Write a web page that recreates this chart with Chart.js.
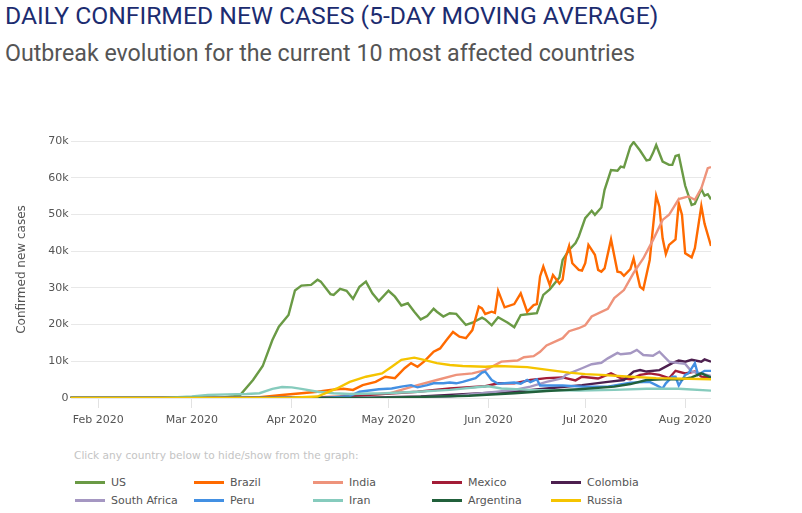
<!DOCTYPE html>
<html>
<head>
<meta charset="utf-8">
<script src="https://cdn.jsdelivr.net/npm/chart.js@4.4.0/dist/chart.umd.min.js"></script>
<style>
  body { margin: 0; background: #fff; width: 802px; height: 513px; overflow: hidden; position: relative; font-family: "DejaVu Sans", sans-serif; }
  #title { position: absolute; left: 5px; top: 1px; font-family: Roboto, sans-serif; font-size: 24.7px; line-height: 30px; color: #1c2c70; white-space: nowrap; }
  #subtitle { position: absolute; left: 5px; top: 39px; font-family: Roboto, sans-serif; font-size: 23.2px; line-height: 28px; color: #555; white-space: nowrap; }
  #box { position: absolute; left: 0; top: 100px; width: 802px; height: 340px; }
  #hint { position: absolute; left: 74px; top: 449px; font-size: 10.6px; color: #c4c4c4; white-space: nowrap; }
  .item { position: absolute; font-size: 11px; color: #555; white-space: nowrap; line-height: 14px; cursor: pointer; }
  .item span.sw { display: inline-block; width: 30px; height: 3px; vertical-align: middle; margin-right: 6px; position: relative; top: -1px; }
</style>
</head>
<body>
<div id="title">DAILY CONFIRMED NEW CASES (5-DAY MOVING AVERAGE)</div>
<div id="subtitle">Outbreak evolution for the current 10 most affected countries</div>
<div id="box"><canvas id="covidChart"></canvas></div>
<div id="hint">Click any country below to hide/show from the graph:</div>
<div id="legend"></div>
<script>
// day index: 0 = 22 Jan 2020
var monthDays = [10, 39, 70, 100, 131, 161, 192];
var monthLabels = ["Feb 2020", "Mar 2020", "Apr 2020", "May 2020", "Jun 2020", "Jul 2020", "Aug 2020"];
var yTicks = [0, 10000, 20000, 30000, 40000, 50000, 60000, 70000];

var countries = ["US", "Brazil", "India", "Mexico", "Colombia", "South Africa", "Peru", "Iran", "Argentina", "Russia"];
var colors = ["#6a9a45", "#ff6a00", "#ee937b", "#a31c37", "#4d1f4f", "#a597c2", "#4390e3", "#86cbbd", "#21603b", "#f5c400"];

// [day, cases]
var usData = [[1,0],[40,0],[48,100],[52,500],[54,800],[58,4900],[61,8700],[64,15800],[66,19400],[69,22600],[71,29300],[73,30600],[76,30800],[78,32200],[79,31700],[82,28300],[83,28100],[85,29700],[87,29200],[89,27000],[91,30300],[93,31700],[95,28500],[97,26400],[100,29200],[102,27600],[104,25200],[106,25800],[108,23500],[110,21400],[112,22300],[114,24300],[115,23500],[117,22200],[119,23100],[121,22900],[124,19900],[126,20500],[129,21900],[130,21400],[132,19800],[134,22000],[137,20500],[139,19300],[141,22600],[143,22800],[146,23100],[148,28100],[150,29600],[153,32800],[154,37600],[156,40300],[158,42200],[159,44000],[161,49000],[163,51000],[164,49900],[166,51900],[167,56700],[169,62100],[171,61900],[172,63000],[173,62800],[175,68500],[176,69700],[178,67400],[180,64700],[181,64900],[182,66700],[183,68900],[185,64400],[187,63500],[188,63500],[189,65900],[190,66200],[192,57800],[194,52600],[195,52900],[197,56900],[198,55100],[199,55500],[200,54100]];
var brazilData = [[1,0],[50,0],[60,200],[67,800],[73,1300],[78,1700],[82,2200],[86,2500],[89,2200],[92,3500],[96,4400],[99,5800],[102,5400],[105,8100],[107,9500],[109,8500],[111,9900],[114,12600],[116,13500],[118,15800],[120,18000],[122,16700],[124,16300],[126,18500],[128,24900],[129,24400],[130,22900],[132,23500],[133,23200],[134,29200],[136,24700],[139,25600],[141,28500],[143,23500],[145,25300],[146,25600],[147,33100],[148,35800],[150,30800],[151,33500],[153,31200],[154,32300],[155,38500],[156,41400],[157,36700],[159,34900],[160,34700],[161,36700],[162,41700],[164,39000],[165,34900],[166,34400],[167,35300],[169,43200],[171,34400],[172,34200],[173,33300],[175,35100],[176,38000],[178,30300],[179,29600],[181,37600],[183,55100],[184,52100],[185,43500],[186,39200],[187,41700],[189,43200],[190,53000],[191,49900],[192,39400],[194,38300],[195,40800],[197,52300],[198,47500],[200,41400]];
var indiaData = [[1,0],[60,0],[70,100],[80,300],[90,700],[100,1200],[109,3500],[115,4900],[121,6300],[126,6700],[130,7600],[132,8500],[135,9900],[140,10200],[142,11100],[145,11400],[147,12600],[149,14300],[154,16300],[156,18200],[159,19000],[161,19800],[163,22200],[168,24300],[170,27200],[173,29400],[176,34100],[179,38000],[182,43000],[185,48500],[187,49900],[190,54200],[193,54900],[195,54000],[197,57100],[199,62600],[200,62900]];
var mexicoData = [[1,0],[75,0],[85,300],[93,800],[109,1700],[119,2600],[130,3200],[134,4000],[139,4000],[144,4900],[149,5400],[154,5600],[158,4800],[160,5800],[165,5300],[169,6700],[172,5400],[175,5100],[178,6300],[181,6700],[184,6300],[187,5400],[189,7400],[192,6700],[195,7200],[197,5800],[200,5600]];
var colombiaData = [[1,0],[90,0],[110,400],[129,1300],[139,1700],[149,2600],[160,3500],[168,4400],[173,4900],[176,7200],[178,7600],[180,7200],[184,7600],[188,9500],[190,10200],[192,9900],[194,10400],[197,9900],[198,10500],[200,9900]];
var southAfricaData = [[1,0],[100,0],[119,400],[129,1300],[139,2200],[144,3100],[149,4400],[154,5400],[155,6300],[160,8100],[163,9200],[166,9600],[168,10800],[171,12300],[172,11900],[175,12200],[177,13100],[179,11700],[182,11500],[184,12600],[187,9900],[190,9500],[192,9300],[194,7200],[197,6700],[200,6000]];
var peruData = [[1,0],[80,0],[88,500],[91,1700],[97,2400],[101,2600],[104,3100],[107,3500],[109,2900],[112,3500],[114,4000],[117,4000],[119,4200],[121,4000],[123,4400],[127,5400],[129,6900],[130,7200],[132,4900],[134,3900],[139,4200],[141,3900],[143,4900],[144,4300],[146,5100],[147,3400],[154,3400],[160,3100],[168,3100],[175,4200],[181,4400],[183,3500],[185,2600],[186,4000],[188,5800],[189,5800],[190,3400],[192,6300],[193,6700],[195,9500],[196,6300],[198,7400],[200,7400]];
var iranData = [[1,0],[30,0],[39,400],[44,800],[50,1000],[56,1100],[60,1300],[64,2500],[67,3000],[70,2900],[73,2500],[78,1700],[83,1300],[88,1100],[99,1300],[109,1700],[119,2200],[128,3000],[131,3200],[135,2600],[144,2200],[159,2000],[170,2200],[180,2500],[190,2500],[200,2000]];
var argentinaData = [[1,0],[95,0],[110,300],[125,600],[129,800],[139,1300],[149,1900],[159,2400],[170,3100],[175,3800],[180,4900],[185,5100],[191,5100],[194,5600],[197,6700],[200,5600]];
var russiaData = [[1,0],[60,0],[70,100],[78,400],[84,2600],[88,4400],[93,5800],[98,6700],[101,8500],[104,10400],[108,11000],[111,10400],[115,9500],[119,9000],[123,8700],[130,8500],[134,8700],[143,8400],[150,7600],[156,6900],[161,6500],[166,6300],[175,5800],[183,5400],[200,5100]];

var series = [usData, brazilData, indiaData, mexicoData, colombiaData, southAfricaData, peruData, iranData, argentinaData, russiaData];

Chart.defaults.font.family = "DejaVu Sans";
Chart.defaults.font.size = 11;
Chart.defaults.color = "#555";

var datasets = [];
for (var i = 0; i < countries.length; ++i) {
    datasets.push({
        label: countries[i],
        data: series[i].map(function (p) { return { x: p[0], y: p[1] }; }),
        borderColor: colors[i],
        backgroundColor: colors[i],
        borderWidth: 2.4,
        pointRadius: 0,
        pointHoverRadius: 0,
        tension: 0,
        fill: false,
        order: countries.length - i
    });
}

var chart = new Chart("covidChart", {
    type: "line",
    data: { datasets: datasets },
    options: {
        responsive: true,
        maintainAspectRatio: false,
        animation: false,
        layout: { padding: { top: 41, right: 91, left: 0, bottom: 0 } },
        plugins: {
            legend: { display: false },
            tooltip: { enabled: false }
        },
        scales: {
            x: {
                type: "linear",
                min: 1.4,
                max: 200,
                afterFit: function (scale) { scale.height = 42; },
                afterBuildTicks: function (scale) {
                    scale.ticks = monthDays.map(function (d) { return { value: d }; });
                },
                ticks: {
                    autoSkip: false,
                    maxRotation: 0,
                    padding: 6,
                    color: "#555",
                    callback: function (value) {
                        var k = monthDays.indexOf(value);
                        return k >= 0 ? monthLabels[k] : "";
                    }
                },
                grid: { drawOnChartArea: false, drawTicks: true, tickLength: 10, color: "#e2e2e2" },
                border: { display: false }
            },
            y: {
                min: 0,
                max: 70000,
                afterFit: function (scale) { scale.width = 70.5; },
                afterBuildTicks: function (scale) {
                    scale.ticks = yTicks.map(function (v) { return { value: v }; });
                },
                ticks: {
                    padding: 2,
                    color: "#555",
                    callback: function (value) {
                        return value === 0 ? "0" : (value / 1000) + "k";
                    }
                },
                grid: { drawTicks: false, color: "#e8e8e8" },
                border: { display: false },
                title: {
                    display: true,
                    text: "Confirmed new cases",
                    color: "#555",
                    font: { size: 12 },
                    padding: { top: 15, bottom: 0 }
                }
            }
        }
    }
});

// legend in 5 columns like the original page
var legendBox = document.getElementById("legend");
chart.data.datasets.forEach(function (ds, i) {
    var item = document.createElement("div");
    item.className = "item";
    item.style.left = (75 + (i % 5) * 119) + "px";
    item.style.top = (476 + Math.floor(i / 5) * 18) + "px";
    item.innerHTML = '<span class="sw" style="background:' + ds.borderColor + '"></span>' + ds.label;
    item.addEventListener("click", function () {
        chart.setDatasetVisibility(i, !chart.isDatasetVisible(i));
        item.style.opacity = chart.isDatasetVisible(i) ? 1 : 0.4;
        chart.update();
    });
    legendBox.appendChild(item);
});
</script>
</body>
</html>
